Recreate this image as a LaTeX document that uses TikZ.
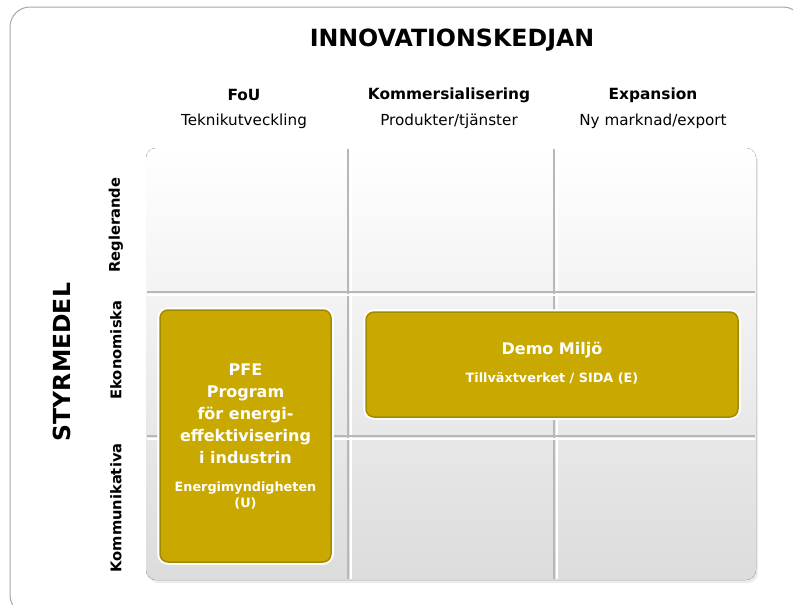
\documentclass[tikz,border=0pt]{standalone}
\usepackage{fontspec}
\setmainfont{DejaVu Sans}
\usetikzlibrary{shadows}
\definecolor{gold}{HTML}{C9A800}
\definecolor{golddark}{HTML}{A38900}
\definecolor{sepgray}{HTML}{B8B8B8}
\definecolor{cellbot}{HTML}{DCDCDC}
\newcommand{\vsep}[1]{\draw[sepgray,line width=1.5] (#1,149) -- (#1,579); \draw[white,line width=1.5] (#1+3,149) -- (#1+3,579);}
\newcommand{\hsep}[1]{\draw[sepgray,line width=1.5] (147,#1) -- (755,#1); \draw[white,line width=1.5] (147,#1+3) -- (755,#1+3);}

\begin{document}
\begin{tikzpicture}[x=1pt,y=-1pt,
  colhead/.style={font=\bfseries\fontsize{15.4}{18}\selectfont},
  colsub/.style={font=\fontsize{15.2}{18}\selectfont},
  rowlab/.style={rotate=90,font=\bfseries\fontsize{14.7}{17}\selectfont},
  goldbox/.style={rounded corners=8,fill=gold,draw=golddark,line width=1.5,preaction={draw=white,line width=5.5}},
  boxtxt/.style={text=white,align=center,font=\bfseries\fontsize{16}{22}\selectfont},
  boxsmall/.style={text=white,align=center,font=\bfseries\fontsize{12.8}{16}\selectfont}]
  \useasboundingbox (0,0) rectangle (793,605);
  \draw[gray!70,line width=1,rounded corners=20] (10,7) rectangle (803,615);
  % titles
  \node[font=\bfseries\fontsize{23.7}{28}\selectfont] (chain) at (452,40) {INNOVATIONSKEDJAN};
  \node[rotate=90,font=\bfseries\fontsize{23.5}{28}\selectfont] (styr) at (62,362) {STYRMEDEL};
  \node[colhead] (fou) at (244,95) {FoU};             \node[colsub] (fousub) at (244,121) {Teknikutveckling};
  \node[colhead] (komm) at (449,95) {Kommersialisering}; \node[colsub] (kommsub) at (449,121) {Produkter/tjänster};
  \node[colhead] (exp) at (653,95) {Expansion};       \node[colsub] (expsub) at (653,121) {Ny marknad/export};
  \node[rowlab] (regl) at (116,225) {Reglerande};
  \node[rowlab] (ekon) at (116,350) {Ekonomiska};
  \node[rowlab] (kommun) at (116,508) {Kommunikativa};
  % matrix
  \fill[rounded corners=10,top color=white,bottom color=cellbot,drop shadow={opacity=0.15,shadow xshift=2pt,shadow yshift=-3pt}] (146,148) rectangle (756,580);
  \vsep{348} \vsep{554} \hsep{292} \hsep{436}
  % boxes
  \node[goldbox,minimum width=171,minimum height=252] (pfe) at (245.5,436) {};
  \node[boxtxt] (pfetitle) at (245.5,414) {PFE\\Program\\för energi-\\effektivisering\\i industrin};
  \node[boxsmall] (pfesrc) at (245.5,495) {Energimyndigheten\\(U)};
  \node[goldbox,minimum width=372,minimum height=105] (demo) at (552,364.5) {};
  \node[boxtxt] (demotitle) at (552,350) {Demo Miljö};
  \node[boxsmall] (demosrc) at (552,378) {Tillväxtverket / SIDA (E)};
\end{tikzpicture}
\end{document}
